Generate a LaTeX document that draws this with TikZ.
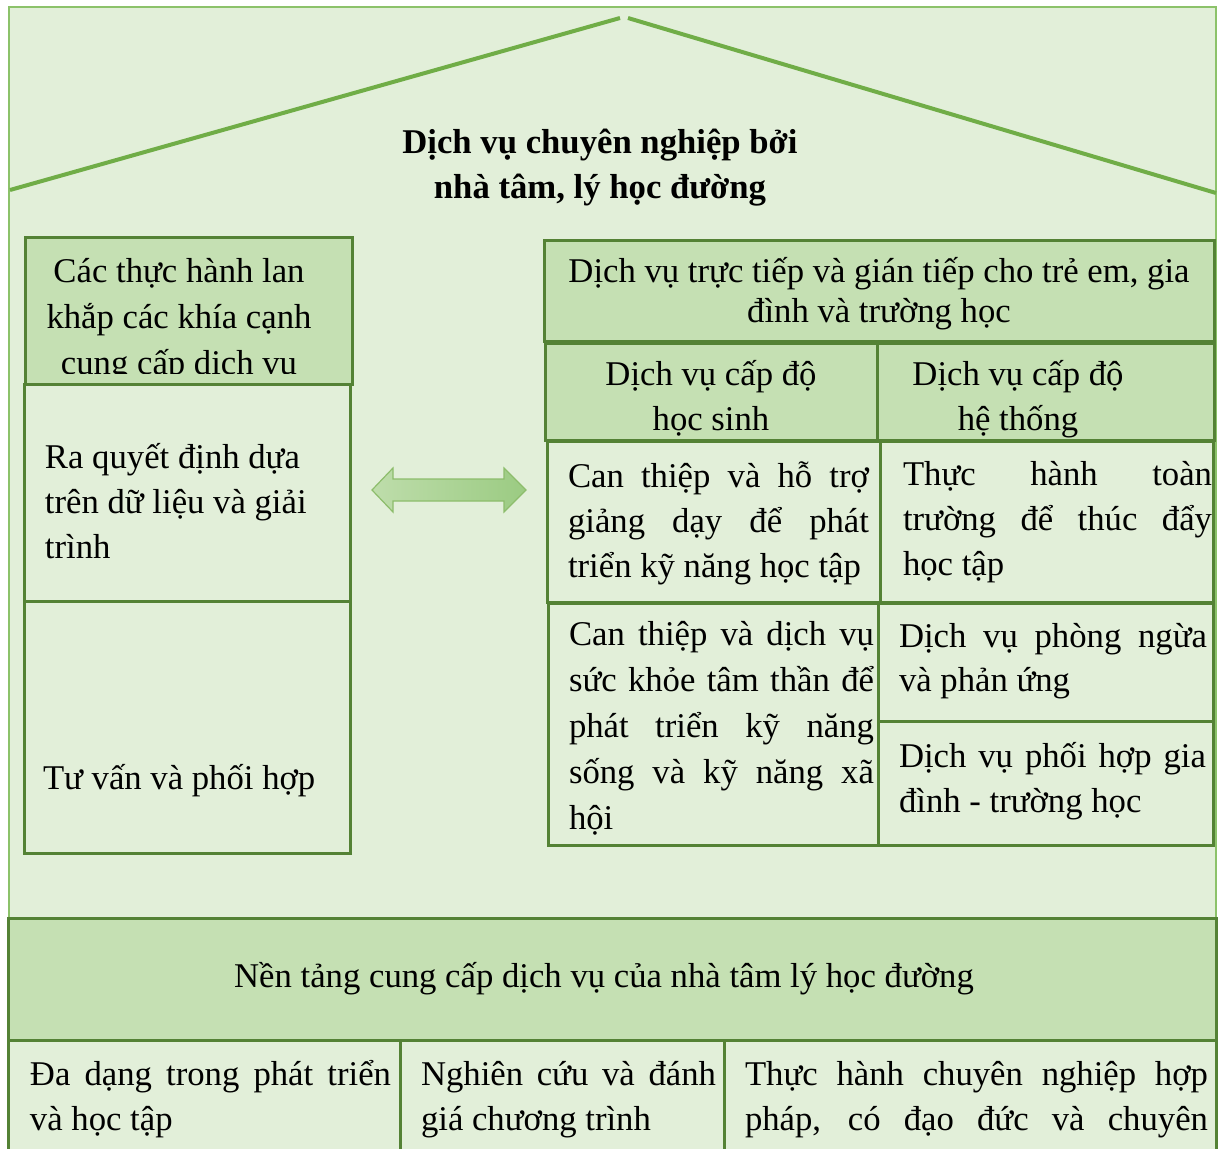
\documentclass[tikz,border=0pt]{standalone}
\usepackage{fontspec}
\setmainfont{Liberation Serif}
\definecolor{bgfill}{HTML}{E2EFD9}
\definecolor{headfill}{HTML}{C5E0B3}
\definecolor{boxline}{HTML}{548235}
\definecolor{roofline}{HTML}{70AD47}
\definecolor{frameline}{HTML}{8CC26A}
\definecolor{arrowleft}{HTML}{BEDDAB}
\definecolor{arrowright}{HTML}{9BCB82}
\newcommand\bodyfont{\fontsize{34.7}{45}\selectfont}
\newcommand\loosefont{\fontsize{34.7}{46}\selectfont}
\newcommand\headfont{\fontsize{34.7}{40}\selectfont}
\newcommand\firstln{\rule{0pt}{36pt}}
\newcommand\jline[2]{\makebox[#1][s]{#2}}
\tikzset{
  cell/.style={fill=bgfill, draw=boxline, line width=3pt},
  cellhead/.style={fill=headfill, draw=boxline, line width=3pt},
  txt/.style={inner sep=0pt, outer sep=0pt, font=\bodyfont, align=left, anchor=north west},
  ctxt/.style={txt, align=center, anchor=north},
}
\begin{document}
\begin{tikzpicture}[x=1pt, y=-1pt]
\useasboundingbox (0,0) rectangle (1219,1149);
\clip (0,0) rectangle (1219,1149);

% house body and roof
\draw[fill=bgfill, draw=frameline, line width=1.5pt] (9,7) rectangle (1216,930);
\draw[roofline, line width=4pt] (10,190) -- (620,18);
\draw[roofline, line width=4pt] (628,18) -- (1216,193);
\node[ctxt, font=\bodyfont\bfseries] (title) at (600,117)
  {\firstln Dịch vụ chuyên nghiệp bởi\\nhà tâm, lý học đường};

% left column
\draw[cellhead] (25,237) rectangle (352,384);
\draw[cell] (24,384) rectangle (350,601);
\draw[cell] (24,601) rectangle (350,853);
\begin{scope}
  \clip (25,237) rectangle (352,373);
  \node[ctxt, font=\loosefont] (lhead) at (179,246)
    {\firstln Các thực hành lan\\khắp các khía cạnh\\cung cấp dịch vụ};
\end{scope}
\node[txt] (ldata) at (45,432)
  {\firstln Ra quyết định dựa\\trên dữ liệu và giải\\trình};
\node[txt] (lconsult) at (43,753) {\firstln Tư vấn và phối hợp};

% two-way block arrow
\shade[left color=arrowleft, right color=arrowright, draw=roofline!80, line width=1.2pt]
  (372,490) -- (393,468) -- (393,479) -- (504,479) -- (504,468) -- (526,490)
  -- (504,512) -- (504,501) -- (393,501) -- (393,512) -- cycle;

% right column
\draw[cellhead] (544,240) rectangle (1214,341);
\draw[cellhead] (545,343) rectangle (877,440);
\draw[cellhead] (877,343) rectangle (1214,440);
\draw[cell] (547,441) rectangle (880,602);
\draw[cell] (880,441) rectangle (1213,602);
\draw[cell] (548,603) rectangle (878,845);
\draw[cell] (878,603) rectangle (1213,721);
\draw[cell] (878,721) rectangle (1213,845);

\node[ctxt, font=\headfont] (rhead) at (879,246)
  {\firstln Dịch vụ trực tiếp và gián tiếp cho trẻ em, gia\\đình và trường học};
\node[ctxt] (student) at (711,349) {\firstln Dịch vụ cấp độ\\học sinh};
\begin{scope}
  \clip (878,343) rectangle (1214,437);
  \node[ctxt] (system) at (1018,349) {\firstln Dịch vụ cấp độ\\hệ thống};
\end{scope}
\node[txt] (teach) at (568,451)
  {\firstln\jline{301pt}{Can thiệp và hỗ trợ}\\\jline{301pt}{giảng dạy để phát}\\triển kỹ năng học tập};
\node[txt] (school) at (903,449)
  {\firstln\jline{309pt}{Thực hành toàn}\\\jline{309pt}{trường để thúc đẩy}\\học tập};
\node[txt, font=\loosefont] (mental) at (569,609)
  {\firstln\jline{305pt}{Can thiệp và dịch vụ}\\\jline{305pt}{sức khỏe tâm thần để}\\\jline{305pt}{phát triển kỹ năng}\\\jline{305pt}{sống và kỹ năng xã}\\hội};
\node[txt, font=\fontsize{34.7}{44}\selectfont] (prevent) at (899,611)
  {\firstln\jline{308pt}{Dịch vụ phòng ngừa}\\và phản ứng};
\node[txt] (family) at (899,731)
  {\firstln\jline{307pt}{Dịch vụ phối hợp gia}\\đình - trường học};

% foundation
\draw[cellhead] (8,918) rectangle (1216,1040);
\draw[cell] (8,1040) rectangle (400,1170);
\draw[cell] (400,1040) rectangle (724,1170);
\draw[cell] (724,1040) rectangle (1216,1170);
\node[ctxt] (base) at (604,951)
  {\firstln Nền tảng cung cấp dịch vụ của nhà tâm lý học đường};
\node[txt] (diverse) at (30,1049)
  {\firstln\jline{361pt}{Đa dạng trong phát triển}\\và học tập};
\node[txt] (research) at (421,1049)
  {\firstln\jline{295pt}{Nghiên cứu và đánh}\\giá chương trình};
\node[txt] (ethics) at (745,1049)
  {\firstln\jline{463pt}{Thực hành chuyên nghiệp hợp}\\\jline{463pt}{pháp, có đạo đức và chuyên}};
\end{tikzpicture}
\end{document}
